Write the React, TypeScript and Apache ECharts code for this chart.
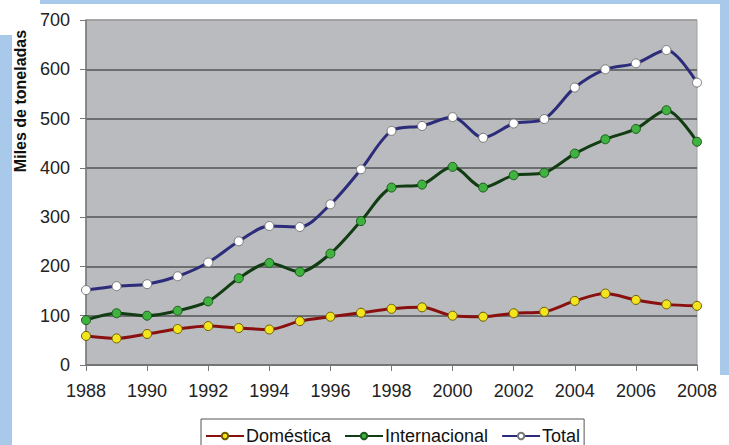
import React, { useEffect, useRef } from "react";
import * as echarts from "echarts";

const years = [1988, 1989, 1990, 1991, 1992, 1993, 1994, 1995, 1996, 1997, 1998, 1999, 2000, 2001, 2002, 2003, 2004, 2005, 2006, 2007, 2008];
const domestica = [59, 54, 63, 73, 79, 75, 72, 89, 98, 106, 114, 117, 100, 98, 105, 108, 130, 145, 132, 123, 120];
const internacional = [91, 105, 100, 110, 129, 176, 207, 189, 226, 292, 360, 366, 402, 360, 385, 390, 429, 458, 479, 517, 453];
const total = [152, 160, 164, 180, 208, 251, 282, 280, 326, 397, 475, 485, 503, 461, 490, 499, 563, 600, 612, 639, 573];
const seriesNames = ["Doméstica", "Internacional", "Total"];
const yAxisTitle = "Miles de toneladas";

const pair = (vals: number[]) => years.map((y, i) => [y, vals[i]]);

const BLUE = "#a9c9ea";

export default function App() {
  const ref = useRef<HTMLDivElement>(null);
  useEffect(() => {
    if (!ref.current) return;
    const chart = echarts.init(ref.current, null, { renderer: "svg" });
    const font = "'Liberation Sans', Arial, sans-serif";
    const mk = (name: string, data: number[], line: string, fill: string, border: string) => ({
      name,
      type: "line",
      data: pair(data),
      smooth: 0.3,
      symbol: "circle",
      symbolSize: 9,
      lineStyle: { color: line, width: 3 },
      itemStyle: { color: fill, borderColor: border, borderWidth: 1 },
    });
    chart.setOption({
      animation: false,
      backgroundColor: "transparent",
      textStyle: { fontFamily: font },
      graphic: [
        {
          type: "text",
          x: 20,
          y: 101,
          rotation: Math.PI / 2,
          style: {
            text: yAxisTitle,
            font: `bold 16px ${font}`,
            fill: "#111",
            align: "center",
            verticalAlign: "middle",
          },
        },
      ],
      grid: {
        left: 86,
        right: 32,
        top: 20,
        bottom: 80,
        show: true,
        backgroundColor: "#b9bbbe",
        borderColor: "#a0a0a0",
        borderWidth: 1,
      },
      legend: {
        data: seriesNames,
        left: 201,
        top: 419,
        width: 400,
        borderColor: "#555",
        borderWidth: 1,
        padding: [8, 4, 10, 4],
        itemGap: 13,
        itemWidth: 38,
        itemHeight: 8,
        textStyle: { fontSize: 18, color: "#111", fontFamily: font, padding: [0, 0, 0, -3] },
      },
      xAxis: {
        type: "value",
        min: 1988,
        max: 2008,
        interval: 2,
        axisLine: { show: true, lineStyle: { color: "#777", width: 1.5 } },
        axisTick: { show: true, length: 6, lineStyle: { color: "#777" } },
        axisLabel: { fontSize: 18, color: "#222", margin: 17, fontFamily: font, formatter: (v: number) => String(v) },
        splitLine: { show: false },
      },
      yAxis: {
        type: "value",
        min: 0,
        max: 700,
        interval: 100,
        axisLine: { show: true, lineStyle: { color: "#777", width: 1.5 } },
        axisTick: { show: true, length: 6, lineStyle: { color: "#777" } },
        axisLabel: { fontSize: 18, color: "#222", margin: 16, fontFamily: font },
        splitLine: {
          show: true,
          lineStyle: {
            color: ["#555", "#555", "#555", "#555", "#555", "#555", "#555", "#9a9a9a"],
            width: 1.5,
          },
        },
      },
      series: [
        mk(seriesNames[0], domestica, "#8a1010", "#f2e51e", "#6b5a00"),
        mk(seriesNames[1], internacional, "#123d12", "#3fb23f", "#1d5a1d"),
        mk(seriesNames[2], total, "#2c2c7a", "#ffffff", "#777"),
      ],
    });
    return () => chart.dispose();
  }, []);
  return (
    <div style={{ position: "fixed", left: 0, top: 0, width: 729, height: 445, background: "#fff", overflow: "hidden" }}>
      <div style={{ position: "absolute", left: 40, top: 0, width: 689, height: 4, background: BLUE }} />
      <div style={{ position: "absolute", left: 720, top: 0, width: 9, height: 375, background: BLUE }} />
      <div style={{ position: "absolute", left: 0, top: 35, width: 12, height: 410, background: BLUE }} />
      <div ref={ref} style={{ position: "absolute", left: 0, top: 0, width: 729, height: 445 }} />
    </div>
  );
}
